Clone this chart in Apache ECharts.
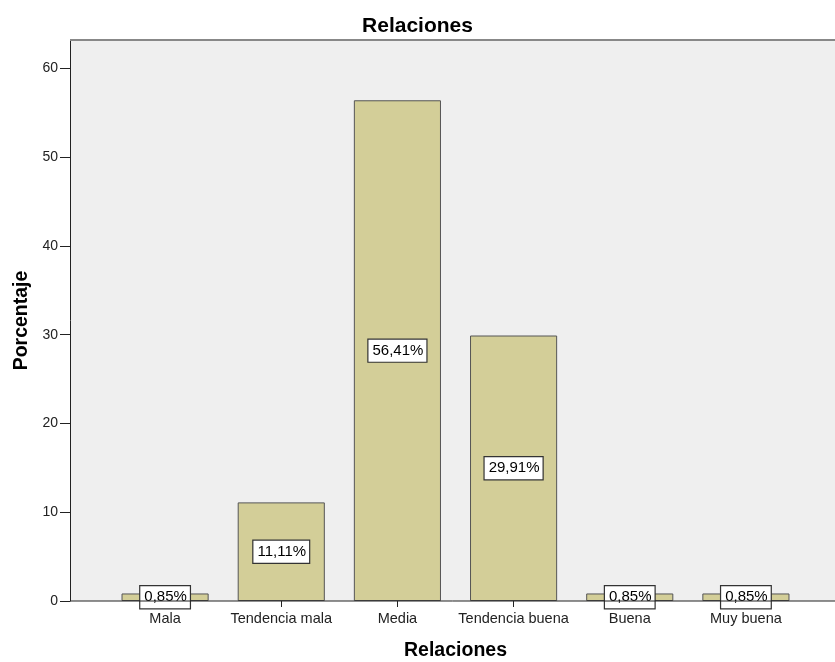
<!DOCTYPE html>
<html><head><meta charset="utf-8">
<script src="https://cdn.jsdelivr.net/npm/echarts@6/dist/echarts.min.js"></script>
<style>html,body{margin:0;padding:0;background:#fff}#c{width:835px;height:662px}</style>
</head><body><div id="c"></div>
<script>
const categories = ['Mala', 'Tendencia mala', 'Media', 'Tendencia buena', 'Buena', 'Muy buena'];
const values = [0.85, 11.11, 56.41, 29.91, 0.85, 0.85];
const yTicks = [0, 10, 20, 30, 40, 50, 60];

const chart = echarts.init(document.getElementById('c'));
const font = 'Liberation Sans, Arial, sans-serif';
chart.setOption({
  animation: false,
  title: { text: 'Relaciones', left: 'center', top: 11,
    textStyle: { fontFamily: font, fontSize: 21, fontWeight: 'bold', color: '#000' } },
  grid: [
    { left: 70, right: 0, top: 40, bottom: 61, show: true, backgroundColor: '#efefef', borderWidth: 0, outerBoundsMode: 'none', containLabel: false },
    { left: 107, right: 31, top: 40, bottom: 61, outerBoundsMode: 'none', containLabel: false }
  ],
  xAxis: [
    { gridIndex: 0, type: 'value', min: 0, max: 1, show: false },
    { gridIndex: 1, type: 'category', data: categories,
      axisLine: { show: false },
      axisTick: { show: true, alignWithLabel: true, length: 6, lineStyle: { color: '#222' } },
      axisLabel: { interval: 0, fontFamily: font, fontSize: 14.5, color: '#222', margin: 10 },
      name: 'Relaciones', nameLocation: 'middle', nameGap: 40,
      nameTextStyle: { fontFamily: font, fontSize: 19.5, fontWeight: 'bold', color: '#000' } }
  ],
  yAxis: [
    { gridIndex: 0, type: 'value', min: 0, max: 63.2, interval: 10,
      axisLine: { show: true, lineStyle: { color: '#222', width: 1 } },
      axisTick: { show: true, length: 10, customValues: yTicks, lineStyle: { color: '#222' } },
      axisLabel: { fontFamily: font, fontSize: 14, color: '#222', margin: 12, customValues: yTicks },
      splitLine: { show: false },
      name: 'Porcentaje', nameLocation: 'middle', nameGap: 36,
      nameTextStyle: { fontFamily: font, fontSize: 19.5, fontWeight: 'bold', color: '#000' } },
    { gridIndex: 1, type: 'value', min: 0, max: 63.2, show: false }
  ],
  graphic: [
    { type: 'line', shape: { x1: 70, y1: 40, x2: 835, y2: 40 }, style: { stroke: '#888', lineWidth: 2 }, z: 10 },
    { type: 'line', shape: { x1: 70, y1: 601, x2: 835, y2: 601 }, style: { stroke: '#222', lineWidth: 1 }, z: 10 }
  ],
  series: [{
    type: 'bar', xAxisIndex: 1, yAxisIndex: 1, data: values, barWidth: '75%',
    itemStyle: { color: '#d3ce98', borderColor: '#555', borderWidth: 1 },
    label: { show: true, position: 'inside', formatter: p => p.value.toFixed(2).replace('.', ',') + '%',
      fontFamily: font, fontSize: 15, color: '#000', backgroundColor: '#fff',
      borderColor: '#333', borderWidth: 1.2, padding: [4, 3, 3, 4] }
  }]
});
</script></body></html>
